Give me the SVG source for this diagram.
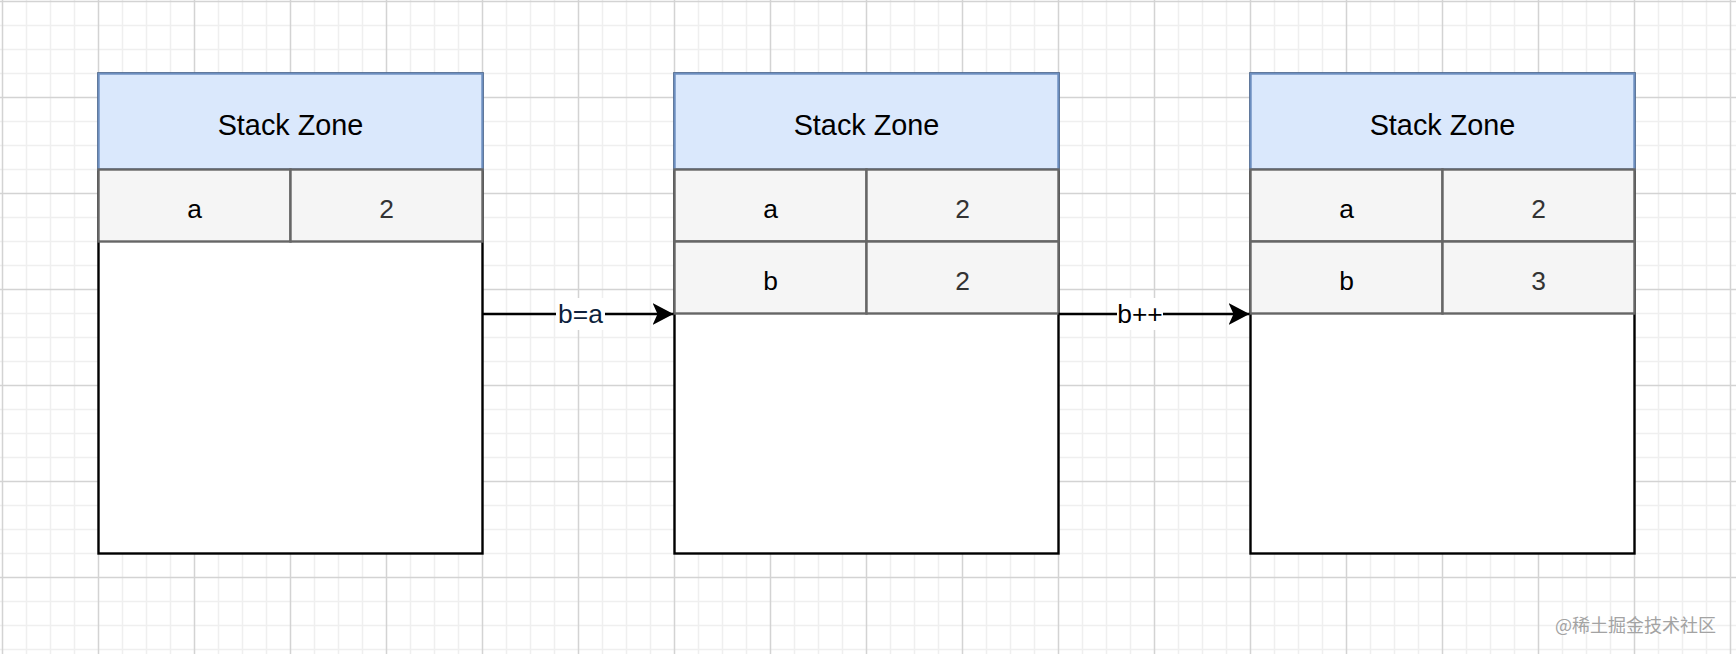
<svg xmlns="http://www.w3.org/2000/svg" width="1736" height="654" viewBox="0 0 1736 654">
<style>
.hdr{fill:#dae8fc;stroke:#6c8ebf;stroke-width:2.4}
.cell{fill:#f5f5f5;stroke:#666666;stroke-width:2.4}
.body{fill:#ffffff;stroke:#000000;stroke-width:2.4}
.title{font-family:"Liberation Sans",Arial,sans-serif;font-size:28.8px;fill:#000;text-anchor:middle}
.key{font-family:"Liberation Sans",Arial,sans-serif;font-size:26.4px;fill:#000;text-anchor:middle}
.val{font-family:"Liberation Sans",Arial,sans-serif;font-size:26.4px;fill:#333333;text-anchor:middle}
.edge{fill:none;stroke:#000;stroke-width:2.4}
.elabel{font-family:"Liberation Sans",Arial,sans-serif;font-size:26.4px;text-anchor:middle}
.wm{font-family:"Noto Sans CJK SC","Liberation Sans",sans-serif;font-size:18px;fill:#a3a3a3;text-anchor:end}
</style>
<defs>
<pattern id="grid" patternUnits="userSpaceOnUse" x="0" y="0" width="96" height="96">
<path d="M26.5 0V96M50.5 0V96M74.5 0V96M0 25.5H96M0 49.5H96M0 73.5H96" stroke="#efefef" stroke-width="1.5" fill="none"/>
<path d="M2.5 0V96M0 1.5H96" stroke="#d3d3d3" stroke-width="1.5" fill="none"/>
</pattern>
<marker id="arr" markerUnits="userSpaceOnUse" markerWidth="24" markerHeight="26" refX="21" refY="12" orient="auto">
<path d="M0 1L21 12L0 23L5 12Z" fill="#000"/>
</marker>
</defs>
<rect width="1736" height="654" fill="#ffffff"/>
<rect width="1736" height="654" fill="url(#grid)"/>

<g id="stack1">
<rect class="body" x="98.5" y="73.5" width="384" height="480"/>
<g id="stack1-header"><rect class="hdr" x="98.5" y="73.5" width="384" height="96"/><text class="title" x="290.5" y="134.5">Stack Zone</text></g>
<g id="stack1-a"><rect class="cell" x="98.5" y="169.5" width="192" height="72"/><text class="key" x="194.5" y="218">a</text></g>
<g id="stack1-a-val"><rect class="cell" x="290.5" y="169.5" width="192" height="72"/><text class="val" x="386.5" y="218">2</text></g>
</g>

<g id="stack2">
<rect class="body" x="674.5" y="73.5" width="384" height="480"/>
<g id="stack2-header"><rect class="hdr" x="674.5" y="73.5" width="384" height="96"/><text class="title" x="866.5" y="134.5">Stack Zone</text></g>
<g id="stack2-a"><rect class="cell" x="674.5" y="169.5" width="192" height="72"/><text class="key" x="770.5" y="218">a</text></g>
<g id="stack2-a-val"><rect class="cell" x="866.5" y="169.5" width="192" height="72"/><text class="val" x="962.5" y="218">2</text></g>
<g id="stack2-b"><rect class="cell" x="674.5" y="241.5" width="192" height="72"/><text class="key" x="770.5" y="290">b</text></g>
<g id="stack2-b-val"><rect class="cell" x="866.5" y="241.5" width="192" height="72"/><text class="val" x="962.5" y="290">2</text></g>
</g>

<g id="stack3">
<rect class="body" x="1250.5" y="73.5" width="384" height="480"/>
<g id="stack3-header"><rect class="hdr" x="1250.5" y="73.5" width="384" height="96"/><text class="title" x="1442.5" y="134.5">Stack Zone</text></g>
<g id="stack3-a"><rect class="cell" x="1250.5" y="169.5" width="192" height="72"/><text class="key" x="1346.5" y="218">a</text></g>
<g id="stack3-a-val"><rect class="cell" x="1442.5" y="169.5" width="192" height="72"/><text class="val" x="1538.5" y="218">2</text></g>
<g id="stack3-b"><rect class="cell" x="1250.5" y="241.5" width="192" height="72"/><text class="key" x="1346.5" y="290">b</text></g>
<g id="stack3-b-val"><rect class="cell" x="1442.5" y="241.5" width="192" height="72"/><text class="val" x="1538.5" y="290">3</text></g>
</g>

<g id="connectors">
<g id="edge1">
<path class="edge" d="M482.5 314H673.5" marker-end="url(#arr)"/>
<rect x="556" y="298" width="49" height="32" fill="#ffffff"/>
<text class="elabel" x="580.5" y="323" fill="#0d1f3c">b=a</text>
</g>
<g id="edge2">
<path class="edge" d="M1058.5 314H1249.5" marker-end="url(#arr)"/>
<rect x="1117" y="298" width="46" height="32" fill="#ffffff"/>
<text class="elabel" x="1140" y="323" fill="#000">b++</text>
</g>
</g>

<text class="wm" x="1716" y="632">@稀土掘金技术社区</text>
</svg>
